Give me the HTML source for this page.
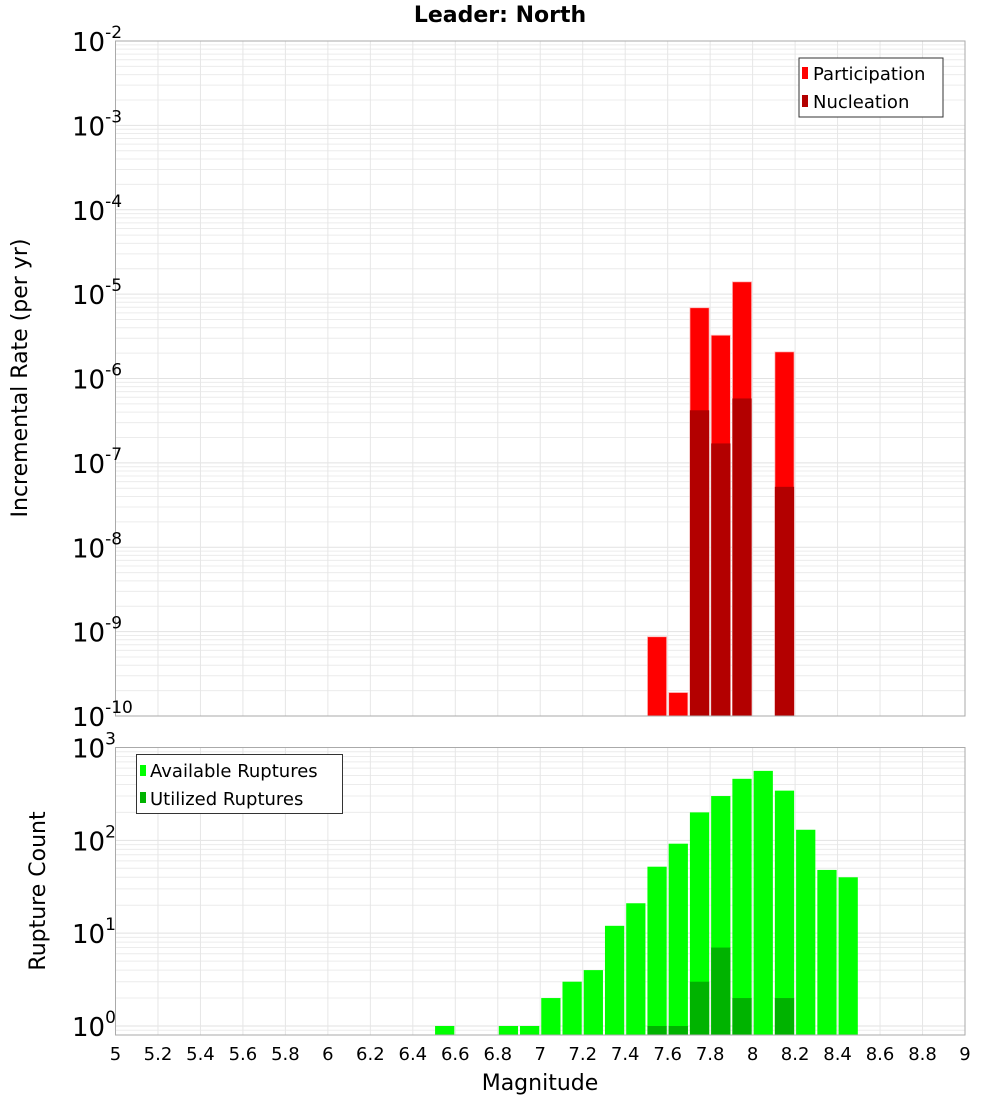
<!DOCTYPE html>
<html><head><meta charset="utf-8"><style>
body{margin:0;background:#fff;font-family:"DejaVu Sans","Liberation Sans",sans-serif;}
</style></head><body>
<svg id="c" width="1000" height="1100" xmlns="http://www.w3.org/2000/svg" font-family="DejaVu Sans, Liberation Sans, sans-serif"></svg>
<script>
const binStarts=[7.5,7.6,7.7,7.8,7.9,8.1];
const participation=[8.7e-10,1.9e-10,6.9e-6,3.26e-6,1.4e-5,2.07e-6];
const nucleation=[0,0,4.2e-7,1.7e-7,5.8e-7,5.2e-8];
const countBins=[6.5,6.8,6.9,7.0,7.1,7.2,7.3,7.4,7.5,7.6,7.7,7.8,7.9,8.0,8.1,8.2,8.3,8.4];
const available=[1,1,1,2,3,4,12,21,52,92,200,300,460,560,343,130,48,40];
const utilizedBins=[7.5,7.6,7.7,7.8,7.9,8.1];
const utilized=[1,1,3,7,2,2];
const xTicks=[5,5.2,5.4,5.6,5.8,6,6.2,6.4,6.6,6.8,7,7.2,7.4,7.6,7.8,8,8.2,8.4,8.6,8.8,9];
const topExps=[-2,-3,-4,-5,-6,-7,-8,-9,-10];
const botExps=[0,1,2,3];

const svg=document.getElementById('c');
const NS='http://www.w3.org/2000/svg';
function mk(t,a,p){const e=document.createElementNS(NS,t);for(const k in a)e.setAttribute(k,a[k]);(p||svg).appendChild(e);return e;}
const L=115.5,R=965,xmin=5,xmax=9;
const X=v=>L+(v-xmin)/(xmax-xmin)*(R-L);
const T1=41,B1=716,lmin1=-10,lmax1=-2;
const Y1=v=>B1-(Math.log10(v)-lmin1)/(lmax1-lmin1)*(B1-T1);
const T2=747.5,B2=1035,lmin2=Math.log10(0.8),lmax2=3;
const Y2=v=>B2-(Math.log10(v)-lmin2)/(lmax2-lmin2)*(B2-T2);

function grid(T,B,lmin,lmax,Y,name){
  const g=mk('g',{});
  
  
  for(let d=Math.floor(lmin);d<=lmax;d++)for(let m=1;m<10;m++){const v=m*Math.pow(10,d);const lv=Math.log10(v);if(lv<lmin-1e-9||lv>lmax+1e-9)continue;const y=Y(v);mk('line',{x1:L,x2:R,y1:y,y2:y,stroke:m==1?'#e2e2e2':'#ececec','stroke-width':1},g);}
  for(const t of xTicks){const x=X(t);mk('line',{x1:x,x2:x,y1:T,y2:B,stroke:'#e6e6e6','stroke-width':1},g);}
}
grid(T1,B1,lmin1,lmax1,Y1,'top-grid');
grid(T2,B2,lmin2,lmax2,Y2,'bottom-grid');

const bw=(X(0.1)-X(0));
binStarts.forEach((b,i)=>{
  const x=X(b)+1,w=bw-2;
  const y=Math.max(T1,Y1(participation[i]));
  const r=mk('rect',{x:x,y:y,width:w,height:B1-y,fill:'#ff0000',stroke:'#ffc0c0','stroke-width':0.8});
  
  
  if(nucleation[i]>0){const yn=Y1(nucleation[i]);
    const n=mk('rect',{x:x,y:yn,width:w,height:B1-yn,fill:'#b30000'});
    
    }
});
countBins.forEach((b,i)=>{
  const x=X(b)+1,w=bw-2;const y=Y2(available[i]);
  const r=mk('rect',{x:x,y:y,width:w,height:B2-y,fill:'#00ff00'});
  
  
});
utilizedBins.forEach((b,i)=>{
  const x=X(b)+1,w=bw-2;const y=Y2(utilized[i]);
  const r=mk('rect',{x:x,y:y,width:w,height:B2-y,fill:'#00b300'});
  
  
});
mk('rect',{x:L,y:T1,width:R-L,height:B1-T1,fill:'none',stroke:'#aaa','stroke-width':1});
mk('rect',{x:L,y:T2,width:R-L,height:B2-T2,fill:'none',stroke:'#aaa','stroke-width':1});

function ylab(y,e,name){
  const t=mk('text',{x:72,y:y+10,'font-size':26,fill:'#000'});
  
  
  t.textContent='10';
  const s=mk('tspan',{dy:-13,'font-size':17},t);s.textContent=String(e);
}
topExps.forEach(e=>ylab(Y1(Math.pow(10,e)),e,'top-y-tick'));
botExps.forEach(e=>ylab(Y2(Math.pow(10,e)),e,'bottom-y-tick'));
xTicks.forEach(t=>{const e=mk('text',{x:X(t),y:1060,'font-size':18,'text-anchor':'middle'});
  
  
  e.textContent=String(t);});
</script>
<svg style="position:absolute;left:0;top:0" width="1000" height="1100" xmlns="http://www.w3.org/2000/svg" font-family="DejaVu Sans, Liberation Sans, sans-serif">
<text x="500" y="22" font-size="22" font-weight="bold" text-anchor="middle">Leader: North</text>
<text transform="translate(27,378) rotate(-90)" font-size="22" text-anchor="middle">Incremental Rate (per yr)</text>
<text transform="translate(45,891) rotate(-90)" font-size="22" text-anchor="middle">Rupture Count</text>
<text x="540" y="1090" font-size="22" text-anchor="middle">Magnitude</text>
<g>
<rect x="799" y="58" width="144" height="59" fill="#fff" stroke="#333" stroke-width="1"/>
<rect x="802" y="67" width="6" height="12" fill="#ff0000"/>
<text x="813" y="80" font-size="18">Participation</text>
<rect x="802" y="95" width="6" height="12" fill="#b30000"/>
<text x="813" y="108" font-size="18">Nucleation</text>
</g>
<g>
<rect x="136.5" y="754.5" width="206" height="59" fill="#fff" stroke="#333" stroke-width="1"/>
<rect x="140" y="765" width="6" height="11" fill="#00ff00"/>
<text x="150" y="777" font-size="18">Available Ruptures</text>
<rect x="140" y="792" width="6" height="11" fill="#00b300"/>
<text x="150" y="805" font-size="18">Utilized Ruptures</text>
</g>
</svg>
</body></html>
